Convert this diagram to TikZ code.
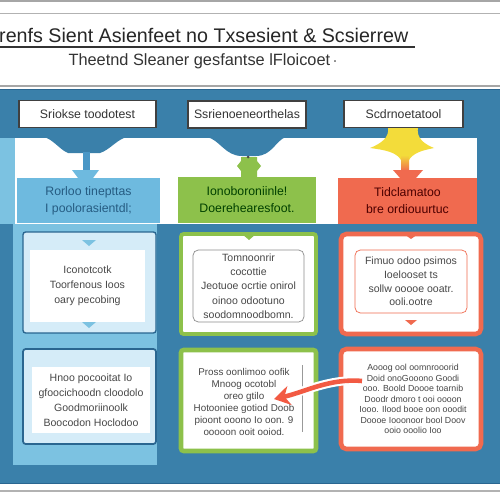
\documentclass[tikz,border=0pt]{standalone}
\usepackage{fontspec}
\setmainfont{Liberation Sans}
\usetikzlibrary{arrows.meta}
\definecolor{panelblue}{HTML}{3A80AA}
\definecolor{darkpanel}{HTML}{2A6690}
\definecolor{skyblue}{HTML}{7CC2E1}
\definecolor{boxblue}{HTML}{6EBADF}
\definecolor{stemblue}{HTML}{4A97C6}
\definecolor{boxgreen}{HTML}{8DC14B}
\definecolor{boxred}{HTML}{F06A4F}
\definecolor{paleblue}{HTML}{D5ECF8}
\definecolor{inkgray}{HTML}{474747}
\definecolor{flame}{HTML}{F3DC3A}

\begin{document}
\begin{tikzpicture}[x=0.02cm, y=-0.02cm,
  topbox/.style={draw=black!75, fill=white, line width=0.7pt, minimum height=0.54cm,
    font=\fontsize{7}{8}\selectfont, text=black!80},
  headbox/.style={fill=#1, minimum height=0.91cm, align=center,
    font=\fontsize{7}{9.6}\selectfont},
  outerbox/.style={draw=#1, line width=0.8pt, rounded corners=1.5pt},
  textbox/.style={fill=white, align=center, inner sep=0pt, text=inkgray},
  cardtext/.style={align=center, text=inkgray, inner sep=0pt}
]
\useasboundingbox (0,0) rectangle (500,500);

%%% header %%%
\draw[black!35, line width=0.6pt] (0,1) -- (500,1);
\draw[black!30, line width=0.5pt] (0,13) -- (500,13);
\node[anchor=base west, font=\fontsize{11.2}{13}\selectfont, text=black!85] (title) at (-7,42.5)
  {renfs Sient Asienfeet no Txsesient \& Scsierrew};
\draw[black!80, line width=0.7pt] (0,47) -- (415,47);
\node[anchor=base, font=\fontsize{9.3}{11}\selectfont, text=black!80] (subtitle) at (203,66)
  {Theetnd Sleaner gesfantse lFloicoet\,$\cdot$};
\draw[black!35, line width=0.6pt] (0,86) -- (500,86);
\draw[black!30, line width=1.2pt] (0,491) -- (500,491);

%%% panel %%%
\fill[panelblue] (0,89) rectangle (500,484);
\draw[darkpanel, line width=1pt] (0,89.5) -- (500,89.5);
\draw[darkpanel, line width=1pt] (0,483.5) -- (500,483.5);
\fill[skyblue] (0,138) rectangle (15,224);
\fill[skyblue] (13,224) rectangle (157,465);
\fill[white] (15,138) rectangle (477,224);

%% funnels
\fill[panelblue] (43,137) .. controls (52,138) and (60,150) .. (68,153)
  -- (100,153) .. controls (110,150) and (118,138) .. (128,137) -- cycle;
\fill[stemblue] (83,152) rectangle (90,171);
\fill[boxblue] (72,170) -- (99,170) -- (93,178) -- (78,178) -- cycle;

\fill[panelblue] (207,137) .. controls (220,140) and (225,156) .. (242,156)
  -- (256,156) .. controls (272,156) and (276,140) .. (286,137) -- cycle;
\fill[boxgreen] (241,178) -- (241,171) -- (237,166) -- (241,161) -- (241,157)
  -- (257,157) -- (257,161) -- (261,166) -- (257,171) -- (257,178) -- cycle;
\fill[black!70] (248,157) circle (1.5);

\fill[flame] (388,127) .. controls (390,138) and (380,144) .. (370,148)
  .. controls (385,150) and (398,152) .. (402,162) -- (408,162)
  .. controls (412,152) and (425,150) .. (434,148)
  .. controls (424,144) and (416,138) .. (418,127) -- cycle;
\shade[top color=flame, bottom color=boxred] (401,155) rectangle (409,171);
\fill[boxred] (393,170) -- (423,170) -- (416,178) -- (400,178) -- cycle;

%%% top row %%%
\node[topbox, minimum width=2.74cm] (lblA) at (87.5,114) {Sriokse toodotest};
\node[topbox, minimum width=2.36cm] (lblB) at (247,114.5) {Ssrienoeneorthelas};
\node[topbox, minimum width=2.38cm] (lblC) at (403.5,114) {Scdrnoetatool};

%%% coloured headers %%%
\node[headbox=boxblue, minimum width=2.86cm, text=darkpanel!90!black] (headA) at (88.5,200.5)
  {Rorloo tinepttas\\ I poolorasientdl;};
\node[headbox=boxgreen, minimum width=2.76cm, text=black!75!green] (headB) at (247,200)
  {Ionoboroniinle!\\ Doerehearesfoot.};
\node[headbox=boxred, minimum width=2.78cm, text=black!70!red] (headC) at (407.5,201)
  {Tidclamatoo\\ bre ordiouurtuc};

%%% middle row %%%
\node[outerbox=darkpanel, fill=paleblue, minimum width=2.66cm, minimum height=2.02cm] (midA) at (89.5,282.5) {};
\node[textbox, minimum width=2.3cm, minimum height=1.44cm, font=\fontsize{6}{8.5}\selectfont] (txtA) at (87.5,286)
  {Iconotcotk\\ Toorfenous Ioos\\ oary pecobing};
\fill[skyblue] (82,240) -- (96,240) -- (89,246) -- cycle;
\fill[skyblue] (82,322) -- (96,322) -- (89,328) -- cycle;

\node[outerbox=boxgreen, line width=2.2pt, fill=white, minimum width=2.7cm, minimum height=2.0cm] (midB) at (248.5,284) {};
\node[textbox, draw=black!45, rounded corners=3pt, minimum width=2.22cm, minimum height=1.44cm,
  font=\fontsize{6}{8.1}\selectfont] (txtB) at (248.5,286)
  {Tomnoonrir\\ cocottie\\ Jeotuoe ocrtie onirol\\ oinoo odootuno\\ soodomnoodbomn.};
\fill[boxgreen] (242,234) -- (256,234) -- (249,240) -- cycle;

\node[outerbox=boxred, line width=2.6pt, rounded corners=3pt, fill=white, minimum width=2.8cm, minimum height=2.0cm] (midC) at (411,284) {};
\node[textbox, draw=boxred, rounded corners=3pt, minimum width=2.24cm, minimum height=1.26cm,
  font=\fontsize{6}{7.8}\selectfont] (txtC) at (411,281.5)
  {Fimuo odoo psimos\\ Ioelooset ts\\ sollw ooooe ooatr.\\ ooli.ootre};
\fill[boxred] (404,234) -- (418,234) -- (411,239) -- cycle;
\fill[boxred] (405,320) -- (417,320) -- (411,325) -- cycle;

%%% bottom row %%%
\node[outerbox=darkpanel, line width=1pt, fill=paleblue, minimum width=2.66cm, minimum height=1.9cm] (lowA) at (89.5,396.5) {};
\node[textbox, minimum width=2.36cm, minimum height=1.32cm, font=\fontsize{6}{8.5}\selectfont] (txtD) at (91,400)
  {Hnoo pocooitat Io\\ gfoocichoodn cloodolo\\ Goodmoriinoolk\\ Boocodon Hoclodoo};

\node[outerbox=boxgreen, line width=2.6pt, fill=white, minimum width=2.7cm, minimum height=2.02cm] (lowB) at (248.5,400.5) {};
\node[cardtext, font=\fontsize{5.6}{6.9}\selectfont] (txtE) at (244,402)
  {Pross oonlimoo oofik\\ Mnoog ocotobl\\ oreo gtilo\\ Hotooniee gotiod Doob\\ pioont ooono Io oon. 9\\ ooooon ooit ooiod.};
\draw[black!40, line width=0.5pt] (302,365) -- (302,432);

\node[outerbox=boxred, line width=2.6pt, rounded corners=3pt, fill=white, minimum width=2.8cm, minimum height=2.0cm] (lowC) at (411,399) {};
\node[cardtext, font=\fontsize{5}{6}\selectfont] (txtF) at (413,399)
  {Aooog ool oomnrooorid\\ Doid onoGooono Goodi\\ ooo. Boold Doooe toarnib\\ Doodr dmoro t ooi oooon\\ Iooo. Ilood booe oon ooodit\\ Doooe Iooonoor bool Doov\\ ooio ooolio Ioo};

%% arrow between the cards
\coordinate (tail) at (362,381);
\coordinate (tip) at (274,399);
\draw[white, line width=5pt] (tail) .. controls (330,378) and (305,392) .. (tip);
\draw[boxred!85!red, line width=2.6pt, -{Stealth[length=9pt, width=11pt]}]
  (tail) .. controls (330,378) and (305,392) .. (tip);

\end{tikzpicture}
\end{document}
